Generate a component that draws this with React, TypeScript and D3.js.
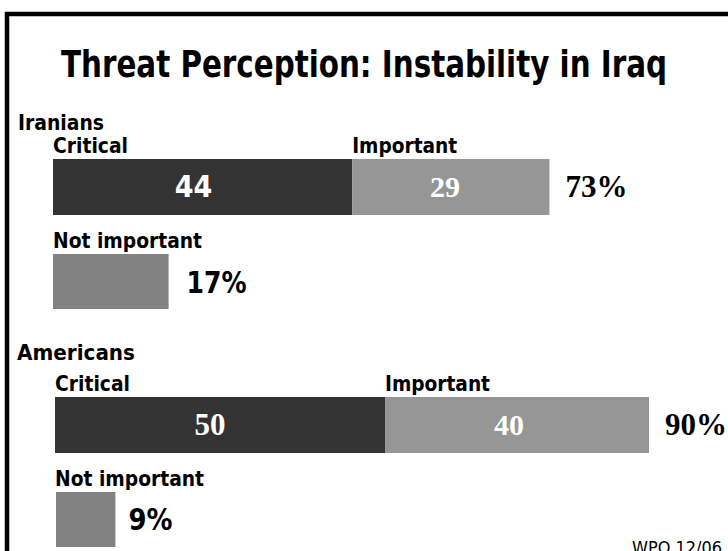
import React from "react";
import * as d3 from "d3";

const groups = ["Iranians", "Americans"];
const critical = [44, 50];
const important = [29, 40];
const notImportant = [17, 9];
const seriesLabels = ["Critical", "Important", "Not important"];
const title = "Threat Perception: Instability in Iraq";
const source = "WPO 12/06";

const W = 728;
const H = 551;
const SANS = "'Liberation Sans Narrow', 'DejaVu Sans Condensed', 'Open Sans', sans-serif";
const SERIF = "'Liberation Serif', 'DejaVu Serif', serif";
const C_DARK = "#333333";
const C_LIGHT = "#969696";
const C_NOT = "#828282";

// layout per group (pixel positions)
const layout = [
  { x0: 53, pxPerUnit: 6.8, off: 0, labelBase: 130, labelX: 18, labelLen: 86, niDx: 18, niLen: 60 },
  { x0: 55, pxPerUnit: 6.6, off: 238, labelBase: 360, labelX: 17, labelLen: 118, niDx: 14, niLen: 44 },
];

export default function App() {
  return (
    <svg width={W} height={H} style={{ position: "absolute", left: 0, top: 0, background: "#fff" }}>
      <rect x={0} y={0} width={W} height={H} fill="#fff" />
      <rect x={7} y={14} width={W + 50} height={H + 50} fill="none" stroke="#000" strokeWidth={4.5} />
      <text x={W / 2} y={77} textAnchor="middle" fontFamily={SANS} fontWeight="bold" fontSize={38}
        textLength={606} lengthAdjust="spacingAndGlyphs">{title}</text>
      {groups.map((g, i) => {
        const L = layout[i];
        const x = d3.scaleLinear().domain([0, 100]).range([L.x0, L.x0 + 100 * L.pxPerUnit]);
        const barY = 159 + L.off;
        const barH = 56;
        const niLabelY = 248 + L.off;
        const niBarY = 254 + L.off;
        const xc0 = x(0), xc1 = x(critical[i]), xi1 = x(critical[i] + important[i]);
        const xn1 = x(notImportant[i]);
        const total = critical[i] + important[i];
        const innerFont = i === 0 ? SANS : SERIF;
        return (
          <g key={g}>
            <text x={L.labelX} y={L.labelBase} fontFamily={SANS} fontWeight="bold" fontSize={21}
              textLength={L.labelLen} lengthAdjust="spacingAndGlyphs">{g}</text>
            <text x={xc0} y={barY - 6} fontFamily={SANS} fontWeight="bold" fontSize={21}
              textLength={75} lengthAdjust="spacingAndGlyphs">{seriesLabels[0]}</text>
            <text x={xc1} y={barY - 6} fontFamily={SANS} fontWeight="bold" fontSize={21}
              textLength={105} lengthAdjust="spacingAndGlyphs">{seriesLabels[1]}</text>
            <rect x={xc0} y={barY} width={xc1 - xc0} height={barH} fill={C_DARK} />
            <rect x={xc1} y={barY} width={xi1 - xc1} height={barH} fill={C_LIGHT} />
            <text x={xc0 + (xc1 - xc0) * 0.47} y={barY + barH / 2 + 10} textAnchor="middle" fill="#fff"
              fontFamily={innerFont} fontWeight="bold" fontSize={i === 0 ? 30 : 31}>{critical[i]}</text>
            <text x={xc1 + (xi1 - xc1) * 0.47} y={barY + barH / 2 + 10} textAnchor="middle" fill="#fff"
              fontFamily={SERIF} fontWeight="bold" fontSize={30}>{important[i]}</text>
            <text x={xi1 + 16} y={barY + barH / 2 + 10} fill="#000" fontFamily={SERIF} fontWeight="bold"
              fontSize={31}>{total}%</text>
            <text x={xc0} y={niLabelY} fontFamily={SANS} fontWeight="bold" fontSize={21}
              textLength={149} lengthAdjust="spacingAndGlyphs">{seriesLabels[2]}</text>
            <rect x={xc0 + (i === 0 ? 0 : 1)} y={niBarY} width={xn1 - xc0} height={barH - 1} fill={C_NOT} />
            <text x={xn1 + L.niDx} y={niBarY + 39 - (i === 0 ? 0 : 1)} fill="#000" fontFamily={SANS}
              fontWeight="bold" fontSize={30} textLength={L.niLen} lengthAdjust="spacingAndGlyphs">{notImportant[i]}%</text>
          </g>
        );
      })}
      <text x={722} y={554} textAnchor="end" fontFamily={SANS} fontSize={17}
        textLength={90} lengthAdjust="spacingAndGlyphs">{source}</text>
    </svg>
  );
}
